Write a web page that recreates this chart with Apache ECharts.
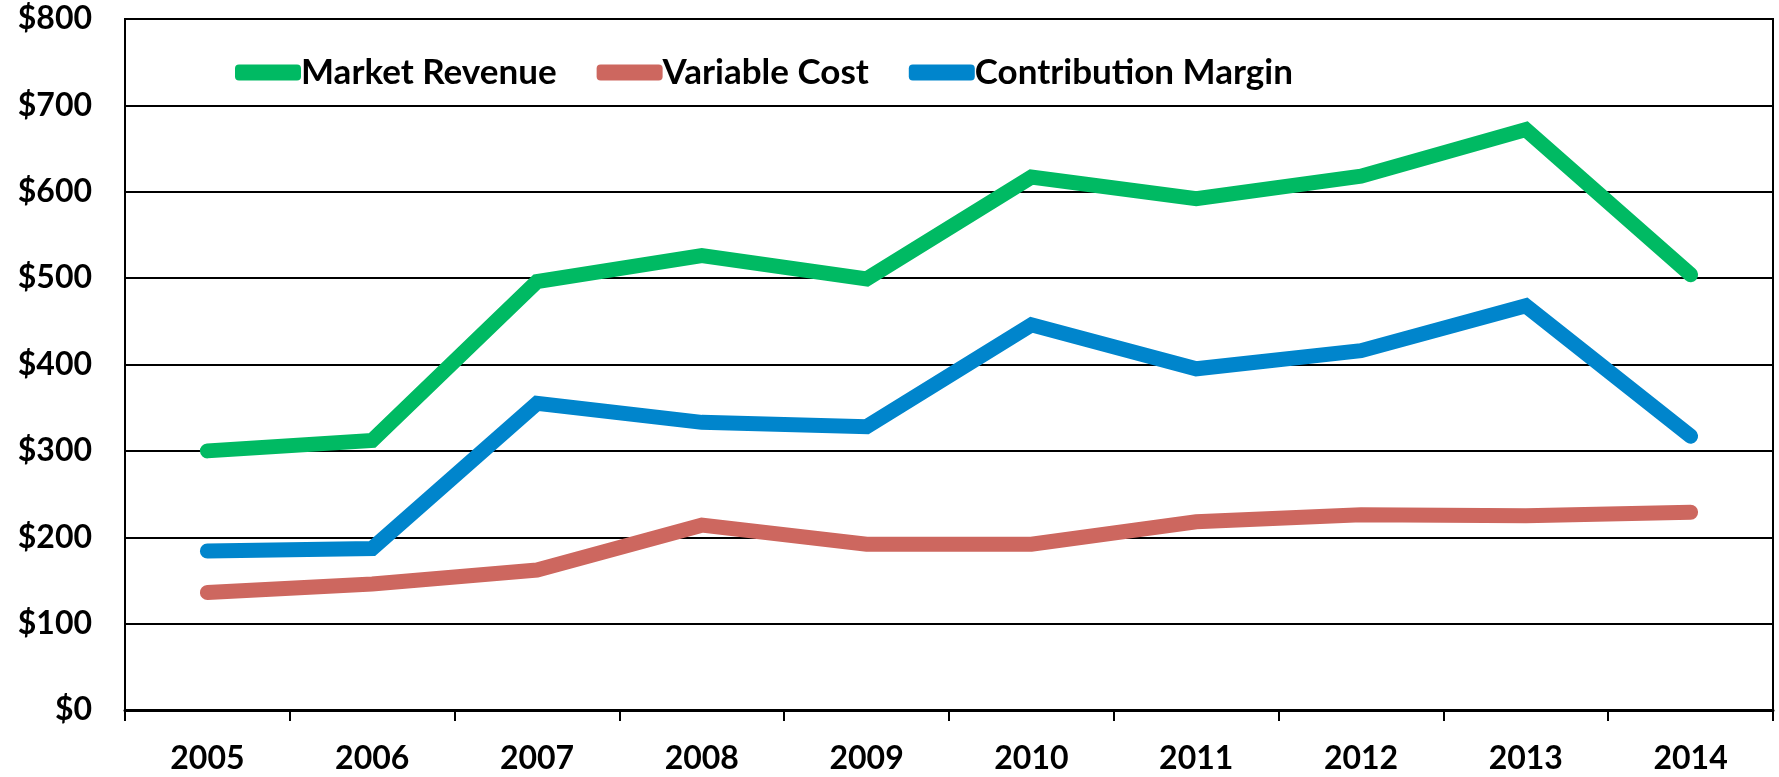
<!DOCTYPE html>
<html><head><meta charset="utf-8">
<script src="https://cdn.jsdelivr.net/npm/echarts@6/dist/echarts.min.js"></script>
<style>html,body{margin:0;padding:0;background:#fff}#c{width:1779px;height:777px}</style>
</head><body><div id="c"></div>
<script>
const years = ['2005','2006','2007','2008','2009','2010','2011','2012','2013','2014'];
const marketRevenue = [300,312,496,526,499,617,592,618,672,504];
const variableCost = [136,146,162,214,192,192,218,226,225,229];
const contributionMargin = [184,187,355,333,328,446,395,416,468,317];
const seriesNames = ['Market Revenue','Variable Cost','Contribution Margin'];
const colors = ['#00BA63','#CD675F','#0085CC'];
const FONT = 'Lato';
const chart = echarts.init(document.getElementById('c'));
const mk = (name, data, color) => ({
  name, type:'line', data, symbol:'none', color,
  lineStyle:{width:15, color, cap:'round', join:'miter'}
});
chart.setOption({
  animation:false,
  grid:{left:125, right:6, top:19, bottom:67, show:true, borderColor:'#000', borderWidth:2, backgroundColor:'transparent'},
  legend:{
    left:230, top:50, icon:'roundRect', itemWidth:66, itemHeight:16, itemGap:40,
    data:seriesNames,
    textStyle:{fontFamily:FONT, fontWeight:'bold', fontSize:35, color:'#000', padding:[0,0,0,-5]}
  },
  xAxis:{
    type:'category', data:years, boundaryGap:true,
    axisLine:{lineStyle:{color:'#000', width:3}},
    axisTick:{show:true, alignWithLabel:false, length:11, lineStyle:{color:'#000', width:2}},
    axisLabel:{margin:33, fontFamily:FONT, fontWeight:'bold', fontSize:32, color:'#000'}
  },
  yAxis:{
    type:'value', min:0, max:800, interval:100,
    axisLine:{show:true, lineStyle:{color:'#000', width:2}},
    axisTick:{show:false},
    splitLine:{lineStyle:{color:'#000', width:2}},
    axisLabel:{margin:33, fontFamily:FONT, fontWeight:'bold', fontSize:32, color:'#000', formatter: v => '$' + v}
  },
  series:[
    mk(seriesNames[0], marketRevenue, colors[0]),
    mk(seriesNames[1], variableCost, colors[1]),
    mk(seriesNames[2], contributionMargin, colors[2])
  ]
});
</script></body></html>
